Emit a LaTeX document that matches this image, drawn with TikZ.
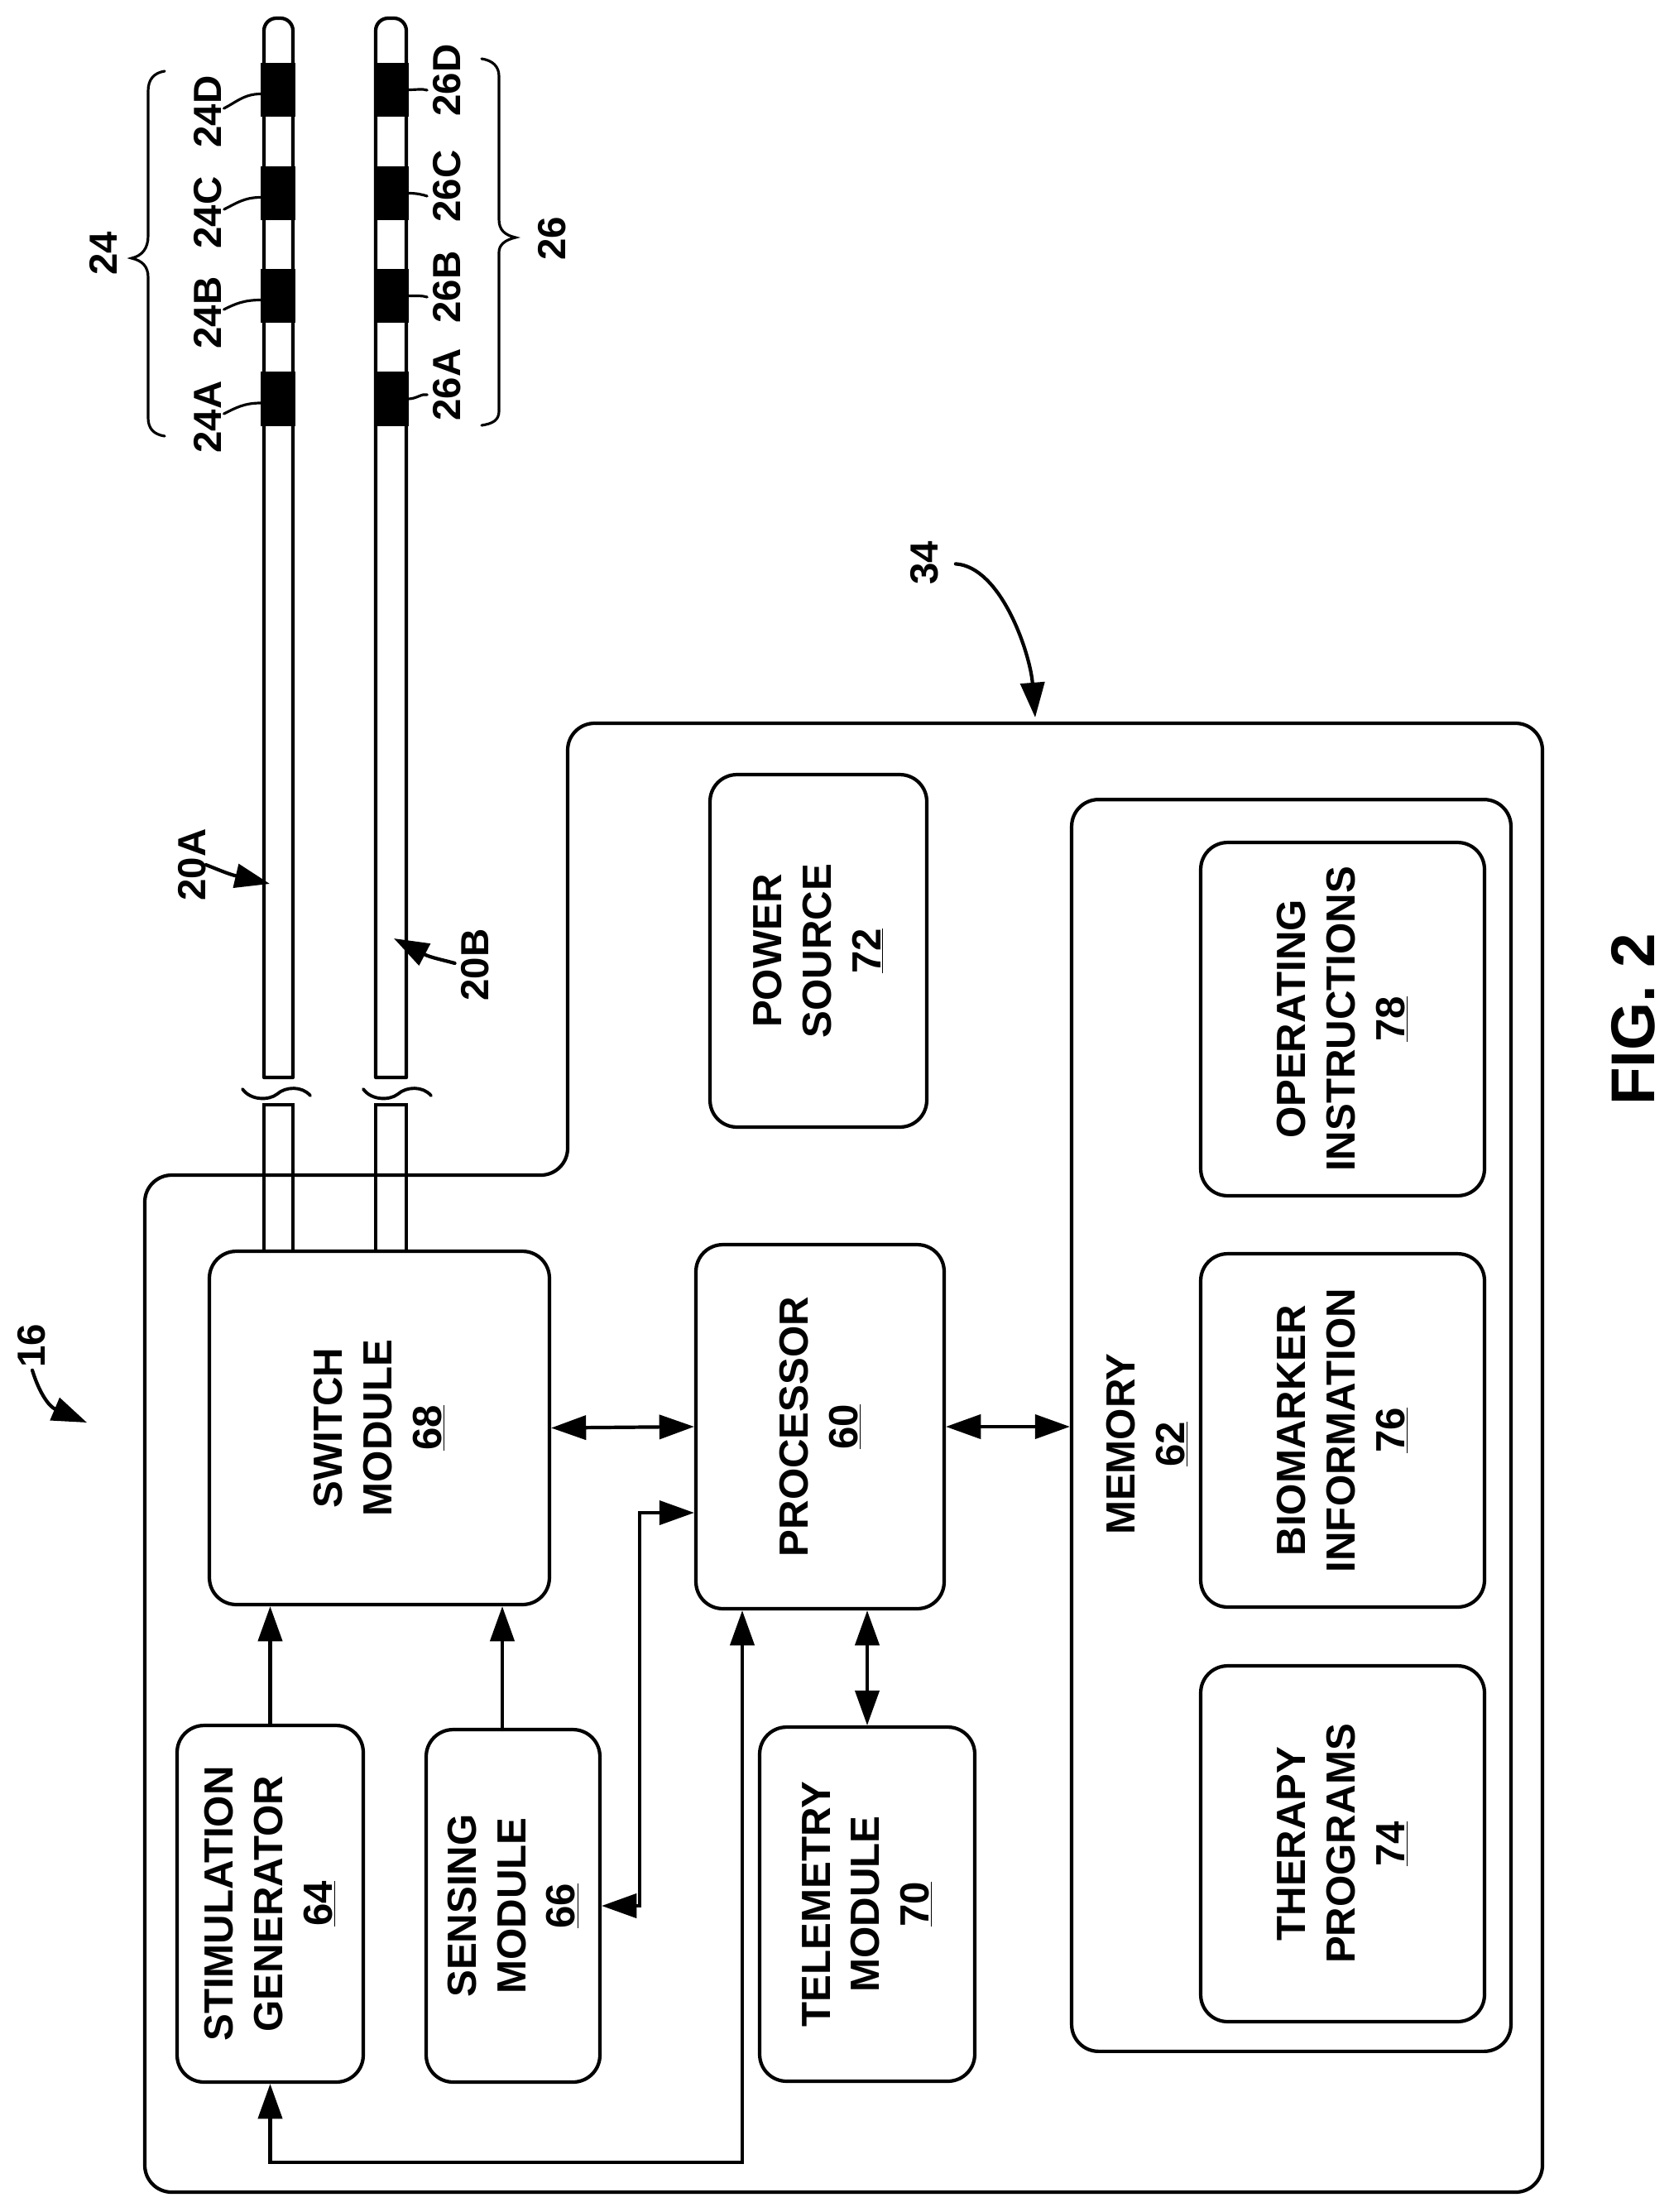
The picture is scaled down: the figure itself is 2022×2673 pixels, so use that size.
\documentclass[tikz,border=0pt]{standalone}
\usepackage{fontspec}
\setmainfont{Liberation Sans}
\usetikzlibrary{arrows.meta}
\begin{document}
\begin{tikzpicture}[x=0.02cm,y=-0.02cm,>={Triangle[length=24pt,width=16.5pt]},line cap=round]
        % Styles
        \tikzstyle{important line}=[line width=2.4pt]
        \tikzstyle{thin line}=[line width=1.8pt]
        \tikzstyle{module}=[draw,important line,rounded corners=0.65cm,rotate=90,align=center,inner sep=0pt,font=\fontsize{28}{34}\bfseries\selectfont]
        \tikzstyle{information text}=[rotate=90,align=center,inner sep=0pt,font=\fontsize{28}{34}\bfseries\selectfont]
        \tikzstyle{ref text}=[rotate=90,inner sep=0pt,outer sep=0pt,font=\fontsize{27}{32}\bfseries\selectfont]
        \tikzstyle{electrode}=[fill=black,inner sep=0pt,outer sep=0pt,minimum width=0.84cm,minimum height=1.32cm]
        \useasboundingbox (0,0) rectangle (2022,2673);
        %housing
        \draw[important line,rounded corners=0.65cm] (686,874) -- (1864,874) -- (1864,2649) -- (175,2649) -- (175,1420) -- (686,1420) -- cycle;
        %leads
        \foreach \xa/\xb in {319/354,454/491}
        {
            \draw[important line,line join=round] (\xa,1302) [rounded corners=0.3cm] -- (\xa,22) -- (\xb,22) [sharp corners] -- (\xb,1302) -- cycle;
            \draw[important line] (\xa,1511) -- (\xa,1335) -- (\xb,1335) -- (\xb,1511);
        }
        \foreach \x in {0,2.92}
            \draw[line width=2.2pt,xshift=\x cm] (293,1316) .. controls (303,1330) and (325,1330) .. (335,1322) .. controls (345,1313) and (365,1312) .. (375,1324);
        %electrodes
        \foreach \n/\y in {A/482,B/357.5,C/233.5,D/108.5}
        {
            \node[electrode] (e24\n) at (336,\y) {};
            \node[electrode] (e26\n) at (472.5,\y) {};
        }
        %electrode labels
        \foreach \n/\y in {A/504,B/378,C/257,D/135}
            \node[ref text] (lab24\n) at (251,\y) {24\n};
        \foreach \n/\y in {A/465,B/347,C/225,D/97}
            \node[ref text] (lab26\n) at (540,\y) {26\n};
        \foreach \n in {A,B,C,D}
        {
            \draw[thin line] ([yshift=-0.1cm]e24\n.west) .. controls +(-20,0) and +(14,-7) .. ([shift={(3,-4)}]lab24\n.south);
            \draw[thin line] (e26\n.east) .. controls +(10,0) and +(-6,-2) .. ([shift={(-7,12)}]lab26\n.north);
        }
        %braces
        \draw[thin line] (199,86) .. controls (186,88) and (179,96) .. (179,110) -- (179,285) .. controls (179,300) and (172,309) .. (159,312) .. controls (172,315) and (179,322) .. (179,335) -- (179,505) .. controls (179,518) and (186,525) .. (199,527);
        \draw[thin line] (582,71) .. controls (595,73) and (603,80) .. (603,92) -- (603,265) .. controls (603,278) and (610,284) .. (623,287) .. controls (610,290) and (603,296) .. (603,305) -- (603,497) .. controls (603,508) and (595,512) .. (582,514);
        \node[ref text] (lab24) at (125,306) {24};
        \node[ref text] (lab26) at (667,288) {26};
        %modules
        \node[module,minimum width=8.54cm,minimum height=8.22cm] (switch) at (458.5,1725.5) {SWITCH\\MODULE\\\underline{68}};
        \node[module,minimum width=8.8cm,minimum height=6cm] (proc) at (991,1724) {PROCESSOR\\\underline{60}};
        \node[module,minimum width=8.56cm,minimum height=5.2cm] (telemetry) at (1048,2301) {TELEMETRY\\MODULE\\\underline{70}};
        \node[module,minimum width=8.52cm,minimum height=5.24cm] (power) at (989,1149) {POWER\\SOURCE\\\underline{72}};
        \node[module,minimum width=8.62cm,minimum height=4.5cm] (stim) at (326.5,2300.5) {STIMULATION\\GENERATOR\\\underline{64}};
        \node[module,minimum width=8.52cm,minimum height=4.2cm] (sense) at (620,2303) {SENSING\\MODULE\\\underline{66}};
        \node[module,minimum width=30.26cm,minimum height=10.62cm] (memory) at (1560.5,1722.5) {};
        \node[information text] (memorytext) at (1386,1745) {MEMORY\\\underline{62}};
        \node[module,minimum width=8.54cm,minimum height=6.86cm] (operating) at (1622.5,1231.5) {OPERATING\\INSTRUCTIONS\\\underline{78}};
        \node[module,minimum width=8.54cm,minimum height=6.86cm] (biomarker) at (1622.5,1728.5) {BIOMARKER\\INFORMATION\\\underline{76}};
        \node[module,minimum width=8.6cm,minimum height=6.86cm] (therapy) at (1622.5,2228) {THERAPY\\PROGRAMS\\\underline{74}};
        %connectors
        \coordinate (sensetop) at (607,2090);
        \coordinate (senseproc) at (773,1828);
        \coordinate (procbus) at (897,2613);
        \draw[important line,->] (stim.east) -- (stim.east |- switch.west);
        \draw[important line,->] (sensetop) -- (sensetop |- switch.west);
        \draw[important line,<->] (switch.south) -- (proc.north);
        \draw[important line,<->] (proc.south) -- (proc.south -| memory.north);
        \draw[important line,<->] (telemetry.east) -- (telemetry.east |- proc.west);
        \draw[important line,<->] (sense.south) -| (senseproc) -- (senseproc -| proc.north);
        \draw[important line,<->] (stim.west) |- (procbus) -- (procbus |- proc.west);
        %callouts
        \node[ref text] (lab20A) at (232,1045) {20A};
        \node[ref text] (lab20B) at (574,1166) {20B};
        \node[ref text] (lab34) at (1117,680) {34};
        \node[ref text] (lab16) at (38,1626) {16};
        \coordinate (tip20A) at (326,1068);
        \coordinate (tip20B) at (476,1134);
        \coordinate (tip34) at (1251,867);
        \coordinate (tip16) at (105,1719);
        \draw[important line,->] (lab20A.south) .. controls (262,1050) and (275,1056) .. (tip20A);
        \draw[important line,->,shorten <=4.5pt] (lab20B.north) .. controls (535,1160) and (520,1157) .. (tip20B);
        \draw[important line,->,shorten <=12pt] (lab34.south) .. controls (1210,685) and (1245,790) .. (tip34);
        \draw[important line,->,shorten <=2pt] (lab16.west) .. controls (48,1685) and (60,1700) .. (tip16);
        \node[rotate=90,inner sep=0pt,font=\fontsize{42.5}{50}\bfseries\selectfont] (fig) at (1974,1232) {FIG. 2};
    \end{tikzpicture}
\end{document}
